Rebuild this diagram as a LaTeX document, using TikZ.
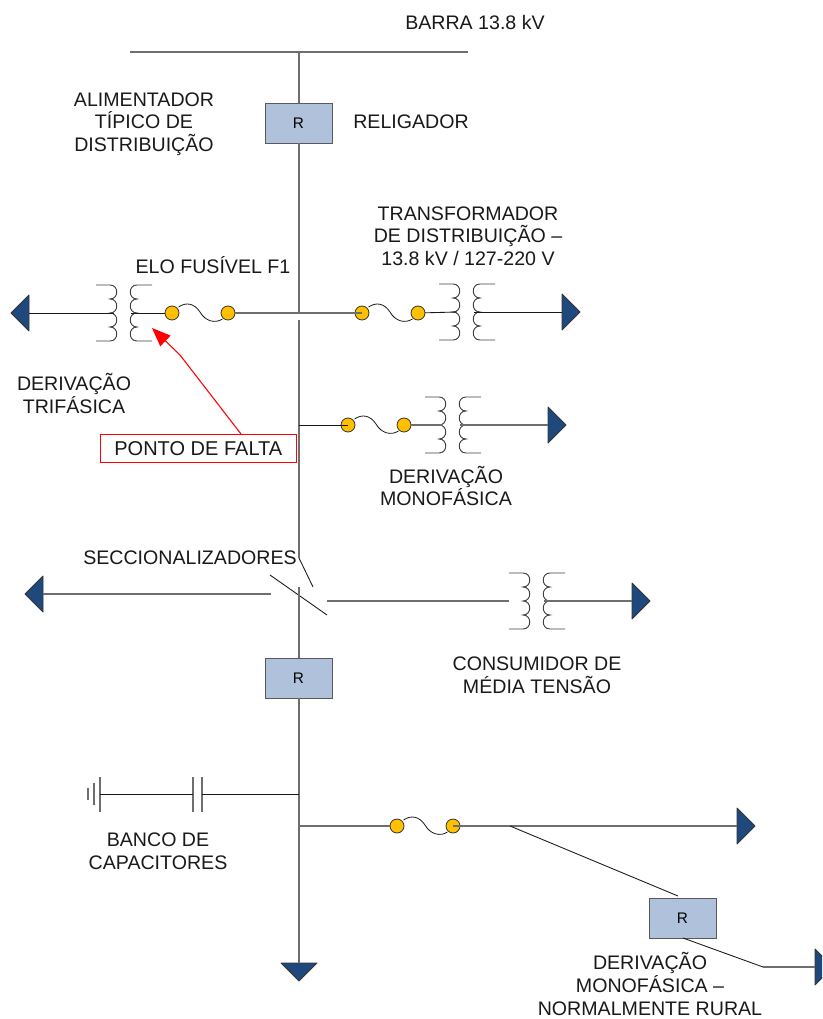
\documentclass[tikz,border=0pt]{standalone}
\usepackage{fontspec}
\setmainfont{Liberation Sans}
\usetikzlibrary{arrows.meta}
\definecolor{wiregrey}{HTML}{6E6E6E}
\definecolor{boxfill}{HTML}{B0C1DB}
\definecolor{tipfill}{HTML}{1F497D}
\definecolor{fusefill}{HTML}{FFC000}
\tikzset{
  wire/.style={draw=black!90,line width=0.65pt},
  greywire/.style={draw=wiregrey,line width=0.9pt},
  coil/.style={draw=black!75,line width=0.7pt},
  recloser/.style={draw=black!65,fill=boxfill,line width=0.7pt,minimum width=50.25pt,minimum height=30pt,inner sep=0pt,outer sep=0pt,font=\fontsize{11.5}{13}\selectfont},
  label/.style={align=center,inner sep=0pt,text=black!90,font=\fontsize{14.7}{16.9}\selectfont},
  fusedot/.style={circle,draw=black!80,fill=fusefill,line width=0.6pt,minimum size=10.5pt,inner sep=0pt,outer sep=0pt},
  faultbox/.style={draw=red,line width=0.8pt,fill=white,minimum width=147pt,minimum height=21pt,inner sep=0pt,outer sep=0pt,text=black!90,font=\fontsize{15}{16.9}\selectfont},
  xfmr/.pic={
    \draw[coil] (-28,-28) -- (-14,-28)
      .. controls (-5,-28) and (-5,-14) .. (-14,-14)
      .. controls (-5,-14) and (-5,0) .. (-14,0)
      .. controls (-5,0) and (-5,14) .. (-14,14)
      .. controls (-5,14) and (-5,28) .. (-14,28) -- (-28,28);
    \draw[coil] (28,-28) -- (13,-28)
      .. controls (4,-28) and (4,-14) .. (13,-14)
      .. controls (4,-14) and (4,0) .. (13,0)
      .. controls (4,0) and (4,14) .. (13,14)
      .. controls (4,14) and (4,28) .. (13,28) -- (28,28);
    \coordinate (-l) at (-10,0);
    \coordinate (-r) at (7,0);
    \coordinate (-w) at (-28,0);
  },
  fuse/.pic={
    \draw[wire,line width=0.6pt] (6.5,-6) .. controls (14,-11) and (22,-10) .. (28,-1)
      .. controls (33,8) and (43,11) .. (50.5,6);
    \node[fusedot] (-a) at (0,0) {};
    \node[fusedot] (-b) at (56,0) {};
  },
  tip/.pic={
    \draw[draw=black!80,fill=tipfill,line width=0.6pt,line join=round] (0,-18) -- (18,0) -- (0,18) -- cycle;
    \coordinate (-b) at (0,0);
  }
}
\begin{document}
\begin{tikzpicture}[x=0.75pt,y=-0.75pt]
\useasboundingbox (0,0) rectangle (822,1019);
% junctions
\coordinate (busL) at (130,52);
\coordinate (busR) at (468,52);
\coordinate (busT) at (299,52);
\coordinate (j1) at (299,313);
\coordinate (j1b) at (299,320);
\coordinate (j2) at (299,425);
\coordinate (swTop) at (299,558);
\coordinate (swBlade) at (313,587);
\coordinate (swBot) at (299,587);
\coordinate (sw2a) at (270,575);
\coordinate (sw2b) at (327,615);
\coordinate (swL) at (271,594);
\coordinate (swR) at (327,601);
\coordinate (j3) at (299,794);
\coordinate (j4) at (299,826);
\coordinate (j5) at (510,826);
\coordinate (r3top) at (678,896);
\coordinate (r3bot) at (683,938);
\coordinate (knee) at (763,967);
% reclosers
\node[recloser] (r1) at (298.5,123) {R};
\node[recloser] (r2) at (298.5,678) {R};
\node[recloser] (r3) at (682.5,918.5) {R};
% transformers
\pic (t1) at (124,313) {xfmr};
\pic (t2) at (467,312) {xfmr};
\pic (t3) at (453,425) {xfmr};
\pic (t4) at (537,601) {xfmr};
% fuses
\pic (f1) at (172,313) {fuse};
\pic (f2) at (362,313) {fuse};
\pic (f3) at (348,425) {fuse};
\pic (f4) at (397,826) {fuse};
% arrows
\pic[rotate=180] (a1) at (29,313) {tip};
\pic (a2) at (562,312) {tip};
\pic (a3) at (548,425) {tip};
\pic[rotate=180] (a4) at (43,594) {tip};
\pic (a5) at (632,601) {tip};
\pic (a6) at (737,826) {tip};
\pic[rotate=-90] (a7) at (299,963) {tip};
\begin{scope}
  \clip (0,0) rectangle (822,1019);
  \pic (a8) at (815,967) {tip};
\end{scope}
% bus and main feeder
\draw[greywire] (busL) -- (busR);
\draw[greywire] (busT) -- (r1.north -| busT);
\draw[greywire] (r1.south -| busT) -- (j1);
\draw[greywire] (j1b) -- (swTop);
\draw[wire] (swTop) -- (swBlade);
\draw[wire] (sw2a) -- (sw2b);
\draw[greywire] (swBot) -- (r2.north -| swBot);
\draw[greywire] (r2.south -| swBot) -- (a7-b);
% branch 1
\draw[wire] (a1-b) -- (t1-l);
\draw[wire] (t1-r) -- (f1-a);
\draw[greywire] (f1-b) -- (f2-a.center);
\draw[wire] (f2-b) -- (t2-l);
\draw[wire] (t2-r) -- (a2-b);
% branch 2
\draw[wire] (j2) -- (f3-a.center);
\draw[greywire] (f3-b) -- (t3-l);
\draw[greywire] (t3-r) -- (a3-b);
% sectionalised branches
\draw[greywire] (a4-b) -- (swL);
\draw[greywire] (swR) -- (t4-w);
\draw[greywire] (t4-r) -- (a5-b);
% capacitor bank
\coordinate (gnd) at (100,794);
\coordinate (capL) at (193,794);
\coordinate (capR) at (202,794);
\draw[greywire] (100,777) -- (100,812);
\draw[greywire,line width=0.8pt] (94,783) -- (94,805);
\draw[greywire,line width=0.8pt] (88,788) -- (88,800);
\draw[greywire,line width=0.8pt] (193,777) -- (193,812);
\draw[greywire,line width=0.8pt] (202,777) -- (202,812);
\draw[wire] (gnd) -- (capL);
\draw[wire] (capR) -- (j3);
% lower branch
\draw[greywire] (j4) -- (f4-a);
\draw[greywire] (f4-b.center) -- (a6-b);
\draw[wire] (j5) -- (r3top);
\draw[wire] (r3bot) -- (knee);
\draw[greywire] (knee) -- (a8-b);
% fault marker
\node[faultbox] (fault) at (198.3,448.2) {PONTO DE FALTA};
\coordinate (faultTip) at (152,328);
\coordinate (faultBend) at (180,355);
\coordinate (faultFoot) at (241,434);
\draw[red,line width=0.8pt,-{Triangle[length=14pt,width=11pt]}] (faultFoot) -- (faultBend) -- (faultTip);
% labels
\node[label] (l1) at (475,23) {BARRA 13.8 kV};
\node[label] (l2) at (144,124) {ALIMENTADOR\\TÍPICO DE\\DISTRIBUIÇÃO};
\node[label] (l3) at (411,122) {RELIGADOR};
\node[label] (l4) at (468,236) {TRANSFORMADOR\\DE DISTRIBUIÇÃO –\\13.8 kV / 127-220 V};
\node[label] (l5) at (213,265) {ELO FUSÍVEL F1};
\node[label] (l6) at (74,393.5) {DERIVAÇÃO\\TRIFÁSICA};
\node[label] (l7) at (446,486) {DERIVAÇÃO\\MONOFÁSICA};
\node[label] (l8) at (190,558) {SECCIONALIZADORES};
\node[label] (l9) at (537,675) {CONSUMIDOR DE\\MÉDIA TENSÃO};
\node[label] (l10) at (158,851) {BANCO DE\\CAPACITORES};
\node[label] (l11) at (650,984) {DERIVAÇÃO\\MONOFÁSICA –\\NORMALMENTE RURAL};
\end{tikzpicture}
\end{document}
